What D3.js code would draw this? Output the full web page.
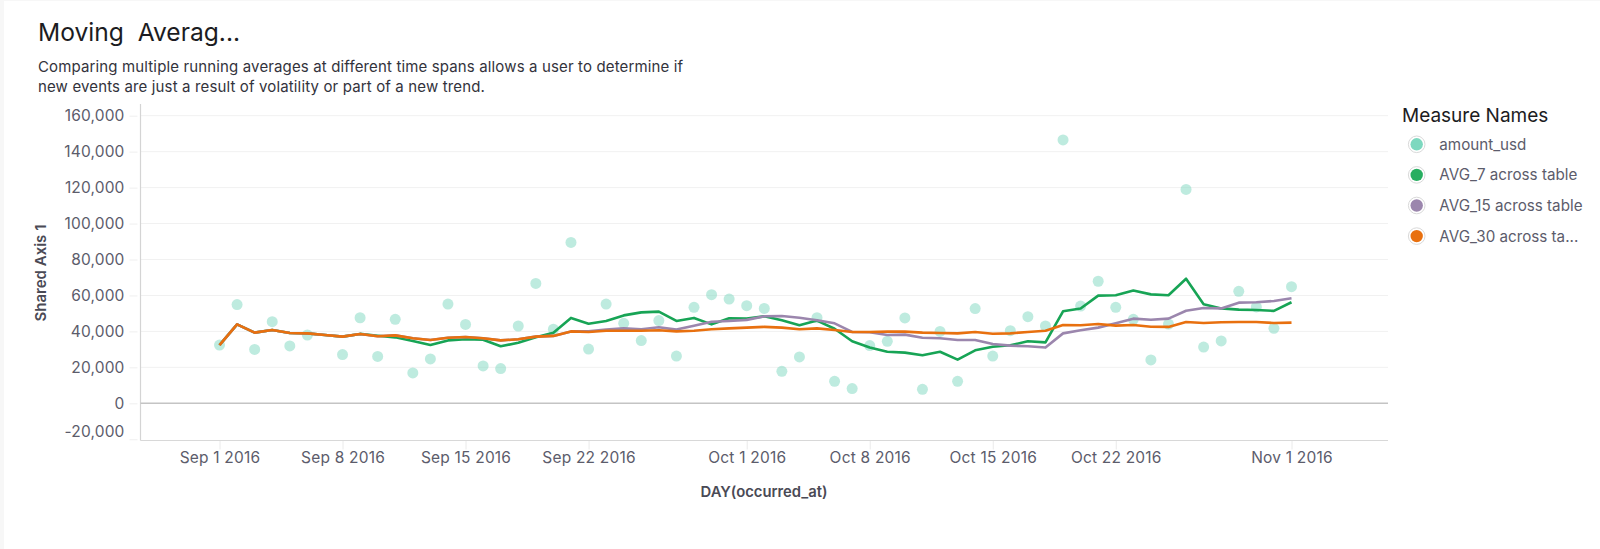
<!DOCTYPE html>
<html>
<head>
<meta charset="utf-8">
<script src="https://cdn.jsdelivr.net/npm/d3@7"></script>
<style>
  html, body { margin: 0; padding: 0; background: #fff; }
  svg { display: block; font-family: Inter, sans-serif; }
</style>
</head>
<body>
<svg id="chart"></svg>
<script>
const width = 1600;
const height = 549;

const firstDay = "2016-09-01";
const lastDay = "2016-11-01";
const tickDays = ["2016-09-01", "2016-09-08", "2016-09-15", "2016-09-22", "2016-10-01", "2016-10-08", "2016-10-15", "2016-10-22", "2016-11-01"];
const yTicks = [-20000, 0, 20000, 40000, 60000, 80000, 100000, 120000, 140000, 160000];

// one value per day, Sep 1 to Nov 1. Sep 7 has no dot in the picture
const amountUsd = [32400, 54900, 30000, 45400, 31900, 38000, null, 27100, 47600, 26100, 46700, 16900, 24700, 55200, 43900, 20800, 19300, 43000, 66700, 41200, 89500, 30200, 55200, 44500, 34900, 46000, 26300, 53400, 60400, 58000, 54300, 52800, 17800, 25800, 47600, 12200, 8200, 32100, 34500, 47500, 7800, 40000, 12200, 52700, 26300, 40400, 48200, 43000, 146500, 54100, 67900, 53400, 46700, 24100, 44100, 119000, 31300, 34700, 62300, 53600, 41700, 64900];
const avg7 = [32400, 43900, 39300, 40800, 39100, 38900, 38000, 37100, 38600, 37600, 36700, 34700, 32400, 35000, 35600, 35400, 31700, 33700, 36700, 39300, 47500, 44300, 45800, 48900, 50600, 51000, 45800, 47500, 43900, 47300, 47100, 48400, 46200, 43400, 46000, 41500, 34500, 31100, 28700, 28200, 26700, 28700, 24300, 29500, 31500, 32300, 34500, 33900, 51200, 52700, 59900, 60100, 62700, 60600, 60100, 69300, 55100, 52800, 52100, 51900, 51400, 56200];
const avg15 = [32400, 43900, 39300, 40800, 39100, 38900, 38000, 37100, 38600, 37300, 37800, 36200, 35200, 36500, 36900, 36200, 35000, 35600, 37100, 37500, 40000, 40000, 41000, 41700, 41200, 42300, 41000, 43200, 45400, 45800, 46400, 48400, 48600, 47600, 46200, 44500, 39700, 39500, 38000, 38200, 36500, 36200, 35200, 35200, 33000, 32100, 31700, 31000, 38900, 40600, 42100, 44500, 47100, 46500, 47100, 51500, 53000, 52800, 56000, 56200, 56900, 58400];
const avg30 = [32400, 43900, 39300, 40800, 39100, 38900, 38000, 37100, 38600, 37300, 37800, 36200, 35200, 36500, 36900, 36200, 35000, 35600, 37100, 37500, 40000, 39700, 40400, 40400, 40400, 40600, 40000, 40400, 41200, 41700, 42100, 42500, 42100, 41200, 41700, 40800, 39700, 39700, 39900, 39900, 39300, 39100, 38900, 39700, 38700, 38900, 39700, 40400, 43600, 43400, 44100, 43200, 43600, 42600, 42500, 45200, 44700, 45100, 45200, 45200, 44700, 44900];

const legendNames = ["amount_usd", "AVG_7 across table", "AVG_15 across table", "AVG_30 across ta..."];
const legendColors = ["#7dd8bf", "#27ae60", "#9b86ad", "#e8700f"];

const parseDay = d3.utcParse("%Y-%m-%d");
const days = d3.utcDay.range(parseDay(firstDay), d3.utcDay.offset(parseDay(lastDay), 1));

const svg = d3.select("#chart")
  .attr("width", width)
  .attr("height", height)
  .attr("viewBox", [0, 0, width, height]);

// grey strip of the page around the card
svg.append("rect").attr("width", width).attr("height", height).attr("fill", "#f7f7f7");
svg.append("rect").attr("x", 4).attr("y", 1).attr("width", width - 4).attr("height", height).attr("fill", "#fff");

const plotLeft = 140.5;
const plotRight = 1388;
const plotTop = 104;
const plotBottom = 440.5;

const x = d3.scaleUtc()
  .domain([parseDay(firstDay), parseDay(lastDay)])
  .range([219.5, 1291.5]);

const y = d3.scaleLinear()
  .domain([0, 160000])
  .range([403.3, 115.7]);

// Title
svg.append("text")
  .attr("x", 38).attr("y", 41)
  .attr("fill", "#1c1c22")
  .style("font-size", "24.6px")
  .style("white-space", "pre")
  .text("Moving  Averag...");

const subtitle = [
  "Comparing multiple running averages at different time spans allows a user to determine if",
  "new events are just a result of volatility or part of a new trend."
];
svg.selectAll("text.subtitle")
  .data(subtitle)
  .enter()
  .append("text")
  .attr("class", "subtitle")
  .attr("x", 38)
  .attr("y", (d, i) => 72 + i * 20)
  .attr("fill", "#33333c")
  .style("font-size", "15px")
  .style("letter-spacing", "0.14px")
  .text(d => d);

// Y axis and grid
const yAxis = d3.axisLeft(y)
  .tickValues(yTicks)
  .tickFormat(d => d3.format(",")(d).replace("−", "-"))
  .tickSize(8)
  .tickPadding(5);

const yG = svg.append("g")
  .attr("transform", `translate(${plotLeft - 3},0)`)
  .call(yAxis);
yG.select(".domain").remove();
yG.selectAll("line").attr("stroke", "#efefef");
yG.selectAll("text")
  .attr("fill", "#5c5c6b")
  .style("font-family", "Inter, sans-serif")
  .style("font-size", "15.5px")
  .style("letter-spacing", "0.15px")
  // the lowest label sits above its tick so it stays inside the axis
  .attr("dy", d => d === -20000 ? "-0.15em" : "0.32em");

svg.append("g")
  .selectAll("line")
  .data(yTicks.filter(d => d !== 0 && d !== -20000))
  .enter()
  .append("line")
  .attr("x1", plotLeft)
  .attr("x2", plotRight)
  .attr("y1", d => y(d))
  .attr("y2", d => y(d))
  .attr("stroke", "#f1f1f1");

// X axis
const xAxis = d3.axisBottom(x)
  .tickValues(tickDays.map(parseDay))
  .tickFormat(d3.utcFormat("%b %-d %Y"))
  .tickSize(9)
  .tickPadding(2);

const xG = svg.append("g")
  .attr("transform", `translate(0,${plotBottom})`)
  .call(xAxis);
xG.select(".domain").remove();
xG.selectAll("line").attr("stroke", "#eaeaea");
xG.selectAll("text")
  .attr("fill", "#5c5c6b")
  .style("font-family", "Inter, sans-serif")
  .style("font-size", "15.5px")
  .style("letter-spacing", "0.2px");

// Frame lines
svg.append("line")
  .attr("x1", plotLeft).attr("x2", plotLeft)
  .attr("y1", plotTop).attr("y2", plotBottom)
  .attr("stroke", "#d4d4d4").attr("stroke-width", 1.2);
svg.append("line")
  .attr("x1", plotLeft).attr("x2", plotRight)
  .attr("y1", plotBottom).attr("y2", plotBottom)
  .attr("stroke", "#d8d8d8").attr("stroke-width", 1.2);
svg.append("line")
  .attr("x1", plotLeft).attr("x2", plotRight)
  .attr("y1", y(0)).attr("y2", y(0))
  .attr("stroke", "#c4c4c4").attr("stroke-width", 1.4);

// Axis titles
svg.append("text")
  .attr("transform", "translate(46,273) rotate(-90)")
  .attr("text-anchor", "middle")
  .attr("fill", "#4a4a55")
  .style("font-size", "15px")
  .style("font-weight", "600")
  .text("Shared Axis 1");

svg.append("text")
  .attr("x", 764).attr("y", 497)
  .attr("text-anchor", "middle")
  .attr("fill", "#4a4a55")
  .style("font-size", "14.8px")
  .style("font-weight", "600")
  .text("DAY(occurred_at)");

// Dots
svg.append("g")
  .selectAll("circle")
  .data(amountUsd.map((v, i) => ({ day: days[i], value: v })).filter(d => d.value !== null))
  .enter()
  .append("circle")
  .attr("cx", d => x(d.day))
  .attr("cy", d => y(d.value))
  .attr("r", 5.5)
  .attr("fill", "#7dd8bf")
  .attr("fill-opacity", 0.5);

// Lines
const line = d3.line()
  .x((d, i) => x(days[i]))
  .y(d => y(d));

[[avg7, legendColors[1]], [avg15, legendColors[2]], [avg30, legendColors[3]]].forEach(([values, color]) => {
  svg.append("path")
    .attr("d", line(values))
    .attr("fill", "none")
    .attr("stroke", color === legendColors[1] ? "#17a455" : color)
    .attr("stroke-width", 2.6)
    .attr("stroke-linejoin", "round");
});

// Legend
svg.append("text")
  .attr("x", 1402).attr("y", 122)
  .attr("fill", "#1c1c22")
  .style("font-size", "19px")
  .text("Measure Names");

const legend = svg.selectAll("g.legend")
  .data(legendNames)
  .enter()
  .append("g")
  .attr("class", "legend")
  .attr("transform", (d, i) => `translate(1416.7,${144.3 + i * 30.6})`);

legend.append("circle")
  .attr("r", 8.3)
  .attr("fill", "#fff")
  .attr("stroke", "#d9d9d9");
legend.append("circle")
  .attr("r", 6.2)
  .attr("fill", (d, i) => legendColors[i]);
legend.append("text")
  .attr("x", 22.6)
  .attr("y", 5.5)
  .attr("fill", "#5c5c6b")
  .style("font-size", "15.2px")
  .text(d => d);
</script>
</body>
</html>
